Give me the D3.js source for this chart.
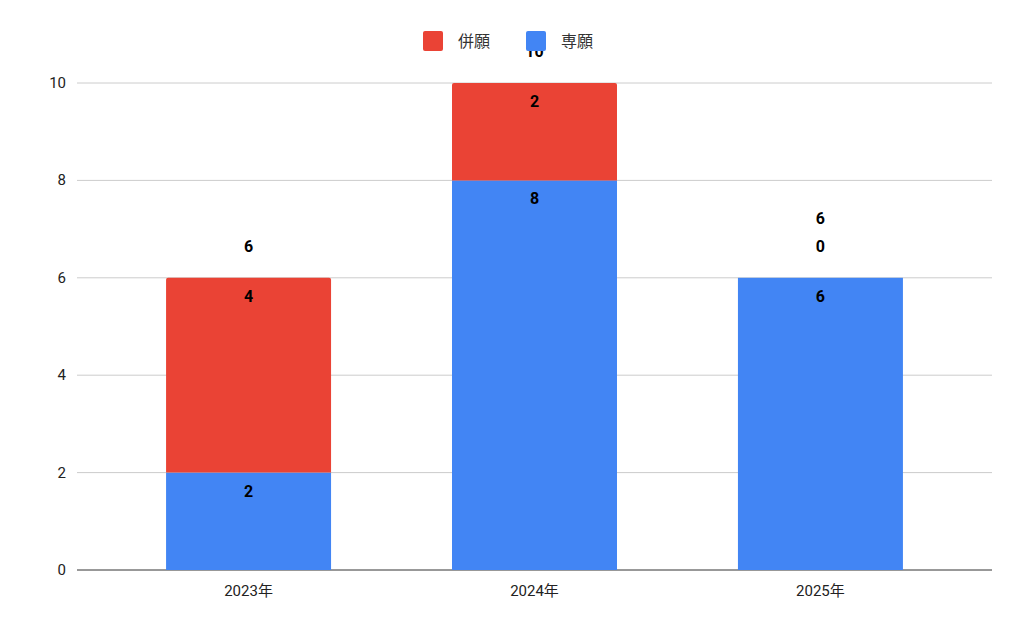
<!DOCTYPE html><html><head><meta charset="utf-8"><script src="https://cdn.jsdelivr.net/npm/d3@7"></script>
<style>body{margin:0;background:#fff}text{font-family:Roboto,"Noto Sans CJK JP",sans-serif}</style></head><body><svg id="c" width="1024" height="633"></svg><script>
const categories=["2023年","2024年","2025年"];
const senGan=[2,8,6];
const heiGan=[4,2,0];
const yTicks=[0,2,4,6,8,10];
const svg=d3.select("#c");
const x=d3.scaleBand().domain(categories).range([77,992]).paddingInner(0.423).paddingOuter(0.3115);
const y=d3.scaleLinear().domain([0,10]).range([570,83]);
const g=svg.append("g");
g.selectAll("line.grid").data(yTicks).join("line").attr("x1",77).attr("x2",992).attr("y1",d=>y(d)).attr("y2",d=>y(d)).attr("stroke",d=>d===0?"#333":"#ccc").attr("stroke-width",1);
g.selectAll("text.yt").data(yTicks).join("text").attr("x",66).attr("y",d=>y(d)+5).attr("text-anchor","end").attr("font-size",15).attr("fill","#222").text(d=>d);
g.selectAll("text.xt").data(categories).join("text").attr("x",d=>x(d)+x.bandwidth()/2).attr("y",596).attr("text-anchor","middle").attr("font-size",15).attr("fill","#222").text(d=>d);
const lab=(xx,yy,t)=>g.append("text").attr("x",xx).attr("y",yy).attr("text-anchor","middle").attr("font-size",16).attr("font-weight","bold").attr("fill","#000").text(t);
categories.forEach((c,i)=>{
  const cx=x(c)+x.bandwidth()/2;
  const s=senGan[i],h=heiGan[i],tot=s+h;
  g.append("rect").attr("x",x(c)).attr("width",x.bandwidth()).attr("y",y(s)).attr("height",y(0)-y(s)).attr("fill","#4285f4");
  if(h>0)g.append("path").attr("d",`M${x(c)},${y(s)}V${y(tot)+2}q0,-2 2,-2H${x(c)+x.bandwidth()-2}q2,0 2,2V${y(s)}Z`).attr("fill","#ea4335");
  lab(cx,y(s)+24,s);
  let top=y(tot);
  if(h>0)lab(cx,y(tot)+24,h);else{lab(cx,top-26,h);top-=28;}
  lab(cx,top-26,tot);
});
const lg=svg.append("g");
lg.append("rect").attr("x",410).attr("y",26).attr("width",200).attr("height",21).attr("fill","#fff");
[["併願","#ea4335",423],["専願","#4285f4",526]].forEach(([t,col,lx])=>{
  lg.append("rect").attr("x",lx).attr("y",31).attr("width",20).attr("height",20).attr("rx",2).attr("fill",col);
  lg.append("text").attr("x",lx+35).attr("y",47).attr("font-size",16).attr("fill","#333").text(t);
});
</script></body></html>
